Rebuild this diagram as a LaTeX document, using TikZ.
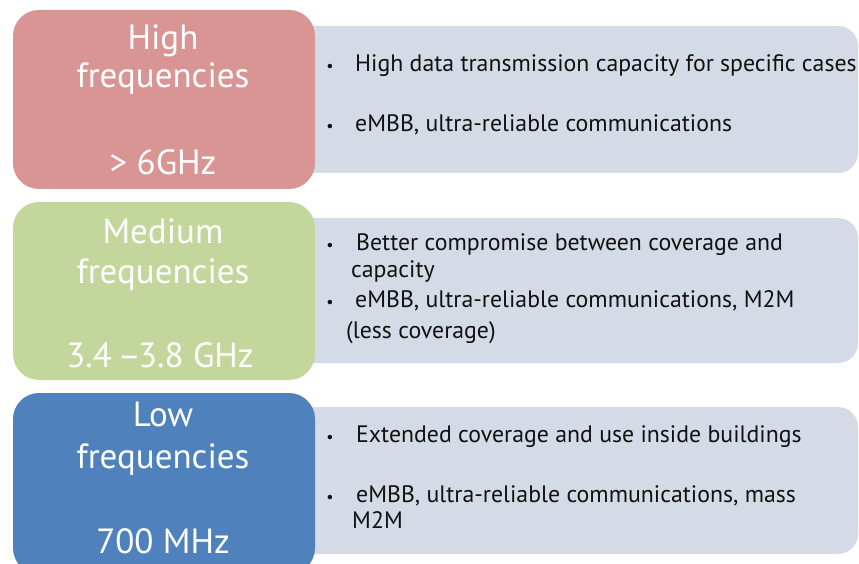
\documentclass[tikz,border=0pt]{standalone}
\usepackage{fontspec}
\setmainfont{PT Sans}
\definecolor{redbox}{HTML}{D99594}
\definecolor{greenbox}{HTML}{C3D69B}
\definecolor{bluebox}{HTML}{4F81BD}
\definecolor{greybox}{HTML}{D4DBE7}
\definecolor{txt}{HTML}{111111}
\tikzset{
  band/.style={fill=greybox, rounded corners=20pt},
  freqbox/.style={rounded corners=26pt},
  lefttxt/.style={text=white, font=\fontsize{35}{40}\selectfont, anchor=base, inner sep=0pt},
  righttxt/.style={text=txt, font=\fontsize{23.8}{28}\selectfont, anchor=base west, inner sep=0pt},
  bul/.style={text=txt, font=\fontsize{16}{20}\selectfont, anchor=base, inner sep=0pt}
}
\begin{document}
\begin{tikzpicture}[x=1pt,y=-1pt]
\useasboundingbox (0,0) rectangle (859,564);
% grey bands
\fill[band] (290,26) rectangle (858,173);
\fill[band] (290,218) rectangle (858,363);
\fill[band] (290,407) rectangle (858,554);
% coloured boxes
\fill[freqbox, redbox] (13,10) rectangle (315,189);
\fill[freqbox, greenbox] (13,202) rectangle (315,380);
\fill[freqbox, bluebox] (13,393) rectangle (315,574);
% left texts
\node[lefttxt] (h1) at (163,50) {High};
\node[lefttxt] (h2) at (163,88) {frequencies};
\node[lefttxt] (h3) at (163,175) {> 6GHz};
\node[lefttxt] (m1) at (163,243) {Medium};
\node[lefttxt] (m2) at (163,283) {frequencies};
\node[lefttxt] (m3) at (160,367) {3.4\hspace{6pt}–\kern-3pt3.8 GHz};
\node[lefttxt] (l1) at (163,426) {Low};
\node[lefttxt] (l2) at (163,468) {frequencies};
\node[lefttxt] (l3) at (163,553) {700 MHz};
% right texts
\node[bul] (b1) at (330,72) {•};
\node[righttxt] (t1) at (355,72) {High data transmission capacity for specific cases};
\node[bul] (b2) at (330,132) {•};
\node[righttxt] (t2) at (355,132) {eMBB, ultra-reliable communications};
\node[bul] (b3) at (330,250) {•};
\node[righttxt] (t3) at (356,250) {Better compromise between coverage and};
\node[righttxt] (t4) at (351,277) {capacity};
\node[bul] (b4) at (330,307) {•};
\node[righttxt] (t5) at (355,307) {eMBB, ultra-reliable communications, M2M};
\node[righttxt] (t6) at (346,338) {(less coverage)};
\node[bul] (b5) at (330,442) {•};
\node[righttxt] (t7) at (356,442) {Extended coverage and use inside buildings};
\node[bul] (b6) at (330,502) {•};
\node[righttxt] (t8) at (356,502) {eMBB, ultra-reliable communications, mass};
\node[righttxt] (t9) at (352,528) {M2M};
\end{tikzpicture}
\end{document}
